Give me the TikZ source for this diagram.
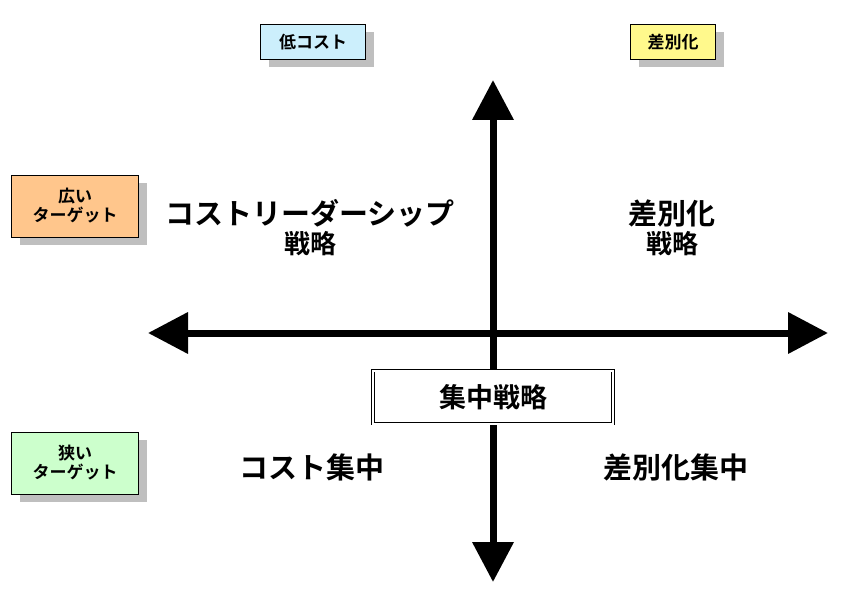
\documentclass[tikz,border=0pt]{standalone}
\usepackage{fontspec}
\setmainfont{Noto Sans CJK JP}[BoldFont={* Bold}]
\usetikzlibrary{arrows.meta, shadows}
\tikzset{
	tag/.style = {draw, thick, font = \bfseries\fontsize{17}{19}\selectfont, align = center,
		inner sep = 4pt, drop shadow = {shadow xshift = 8pt, shadow yshift = -8pt, fill = gray!50, opacity = 1}},
	big/.style = {font = \bfseries\fontsize{29}{33}\selectfont, align = center},
	axis/.style = {line width = 7pt, -{Triangle[length = 40pt, width = 40pt]}}
}
\begin{document}
\begin{tikzpicture}[x = 1pt, y = -1pt]
	\useasboundingbox (0,0) rectangle (860,607);
	% axes
	\coordinate (top) at (493,80);
	\coordinate (bottom) at (493,582);
	\coordinate (left) at (148,333);
	\coordinate (right) at (828,333);
	\draw[axis] (493,333) -- (top);
	\draw[axis] (493,333) -- (bottom);
	\draw[axis] (493,333) -- (left);
	\draw[axis] (493,333) -- (right);
	% labels
	\node[tag, fill = cyan!20, minimum width = 105pt, minimum height = 35pt] (low) at (313,42) {低コスト};
	\node[tag, fill = yellow!45, minimum width = 85pt, minimum height = 35pt] (diff) at (673,42) {差別化};
	\node[tag, fill = orange!45, minimum width = 127pt, minimum height = 62pt] (wide) at (75,206) {広い\\ターゲット};
	\node[tag, fill = green!20, minimum width = 127pt, minimum height = 62pt] (narrow) at (75,463) {狭い\\ターゲット};
	% quadrants
	\node[big] (cl) at (310,228) {コストリーダーシップ\\[-4pt]{\fontsize{26}{30}\selectfont 戦略}};
	\node[big] (dl) at (672,228) {差別化\\[-4pt]{\fontsize{26}{30}\selectfont 戦略}};
	\node[big] (cf) at (312,467) {コスト集中};
	\node[big] (df) at (676,467) {差別化集中};
	\node[draw, double, double distance = 2pt, fill = white, thick, minimum width = 240pt, minimum height = 53pt,
		font = \bfseries\fontsize{27}{30}\selectfont] (focus) at (493,397) {集中戦略};
\end{tikzpicture}
\end{document}
